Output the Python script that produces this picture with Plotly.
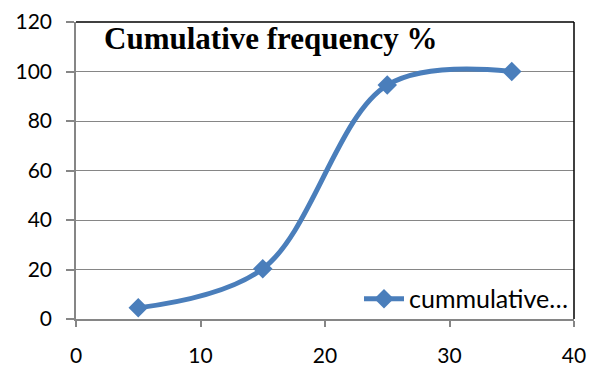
import plotly.graph_objects as go

x_vals = [5, 15, 25, 35]
y_vals = [4.5, 20.3, 94.5, 100]
series_name = "cummulative…"
title_text = "Cumulative frequency %"
x_ticks = [0, 10, 20, 30, 40]
y_ticks = [0, 20, 40, 60, 80, 100, 120]

fig = go.Figure()
fig.add_trace(go.Scatter(
    x=x_vals, y=y_vals, name=series_name, mode="lines+markers",
    line=dict(color="#4A7EBB", width=5, shape="spline", smoothing=1),
    marker=dict(symbol="diamond", size=15, color="#4A7EBB"),
    showlegend=True,
))

axis_font = dict(family="Lato", size=21, color="#000000")
legend_font = dict(family="Lato", size=25, color="#000000")

fig.update_layout(
    width=590, height=367,
    margin=dict(l=76, r=16, t=22, b=48, autoexpand=False),
    paper_bgcolor="white", plot_bgcolor="white",
    showlegend=True,
    legend=dict(x=1.0, y=-0.01, xanchor="right", yanchor="bottom",
                bgcolor="rgba(0,0,0,0)", font=legend_font,
                itemwidth=40, tracegroupgap=0),
    xaxis=dict(range=[0, 40], tickvals=x_ticks, showgrid=False, zeroline=False,
               automargin=False,
               showline=True, linecolor="#868686", linewidth=1.5,
               ticks="outside", ticklen=6, tickcolor="#868686", tickwidth=1.5,
               tickfont=axis_font, ticklabelstandoff=11),
    yaxis=dict(range=[0, 120], tickvals=y_ticks, showgrid=True, gridcolor="#868686",
               gridwidth=1, zeroline=False, automargin=False,
               showline=True, linecolor="#868686", linewidth=1.5,
               ticks="outside", ticklen=8, tickcolor="#868686", tickwidth=1.5,
               tickfont=axis_font, ticklabelstandoff=10),
    annotations=[dict(text="<b>" + title_text + "</b>", xref="paper", yref="paper",
                      x=0.052, y=1.01, xanchor="left", yanchor="top", showarrow=False,
                      font=dict(family="Liberation Serif", size=31,
                                color="#000000"))],
    shapes=[
        dict(type="line", xref="paper", yref="paper", x0=0, x1=1, y0=1, y1=1,
             line=dict(color="#000000", width=1.5)),
        dict(type="line", xref="paper", yref="paper", x0=1, x1=1, y0=0, y1=1,
             line=dict(color="#000000", width=1.5)),
    ],
)

fig.write_html("out.html")
